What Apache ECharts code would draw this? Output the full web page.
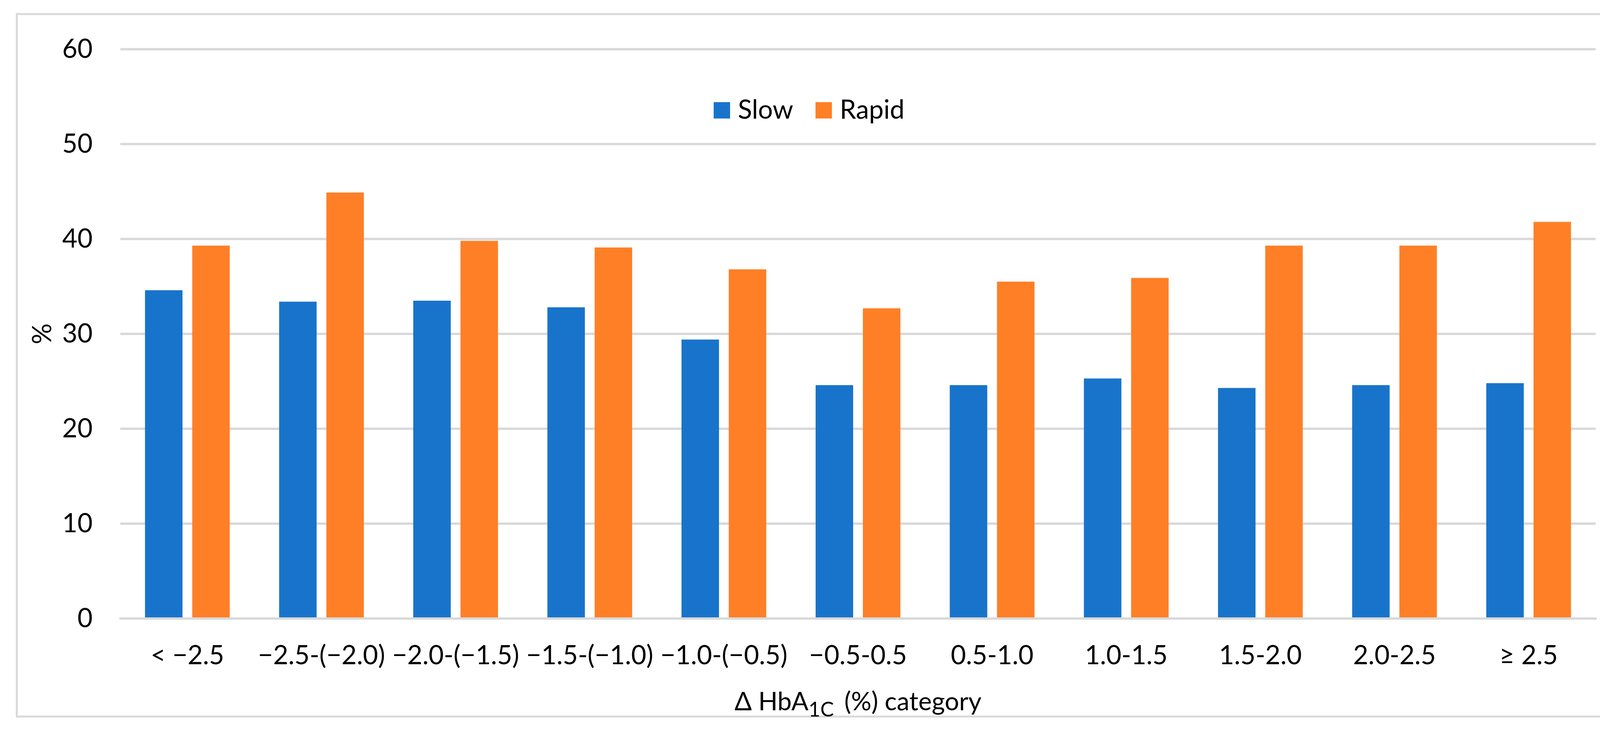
<!DOCTYPE html>
<html>
<head>
<meta charset="utf-8">
<script src="https://cdn.jsdelivr.net/npm/echarts@6/dist/echarts.min.js"></script>
<style>
html,body{margin:0;padding:0;background:#fff;}
#chart{width:4210px;height:1872px;}
</style>
</head>
<body>
<div id="chart"></div>
<script>
const categories = ['< \u22122.5', '\u22122.5-(\u22122.0)', '\u22122.0-(\u22121.5)', '\u22121.5-(\u22121.0)', '\u22121.0-(\u22120.5)', '\u22120.5-0.5', '0.5-1.0', '1.0-1.5', '1.5-2.0', '2.0-2.5', '\u2265 2.5'];
const slowValues = [34.6, 33.4, 33.5, 32.8, 29.4, 24.6, 24.6, 25.3, 24.3, 24.6, 24.8];
const rapidValues = [39.3, 44.9, 39.8, 39.1, 36.8, 32.7, 35.5, 35.9, 39.3, 39.3, 41.8];
const yTicks = { min: 0, max: 60, interval: 10 };

const FONT = 'Lato, "Open Sans", sans-serif';
const chart = echarts.init(document.getElementById('chart'), null, { renderer: 'canvas' });
chart.setOption({
  backgroundColor: '#ffffff',
  animation: false,
  textStyle: { fontFamily: FONT, color: '#000' },
  graphic: [{
    type: 'rect',
    shape: { x: 43, y: 36, width: 4133, height: 1799 },
    style: { fill: 'none', stroke: '#d9d9d9', lineWidth: 5 },
    silent: true
  }],
  legend: {
    left: 1822,
    top: 244,
    itemWidth: 42,
    itemHeight: 42,
    itemGap: 57,
    icon: 'rect',
    textStyle: { fontFamily: FONT, fontSize: 67, color: '#000', lineHeight: 42, padding: [0, 0, 0, 15] },
    data: ['Slow', 'Rapid']
  },
  grid: { left: 308, right: 125, top: 126, bottom: 288, containLabel: false },
  xAxis: {
    type: 'category',
    data: categories,
    z: 3,
    axisLine: { show: true, lineStyle: { color: '#d9d9d9', width: 6 } },
    axisTick: { show: false },
    axisLabel: { interval: 0, margin: 62, fontFamily: FONT, fontSize: 67, color: '#000' },
    name: 'Δ HbA{sub|1C} (%) category',
    nameLocation: 'middle',
    nameGap: 168,
    nameTextStyle: {
      fontFamily: FONT, fontSize: 65, color: '#000', lineHeight: 92, verticalAlign: 'top',
      rich: {
        sub: { fontFamily: FONT, fontSize: 52, color: '#000', lineHeight: 92, verticalAlign: 'bottom', padding: [0, 10, 0, 0] }
      }
    }
  },
  yAxis: {
    type: 'value',
    min: yTicks.min,
    max: yTicks.max,
    interval: yTicks.interval,
    axisLine: { show: false },
    axisTick: { show: false },
    splitLine: { show: true, lineStyle: { color: '#d9d9d9', width: 6 } },
    axisLabel: { margin: 71, fontFamily: FONT, fontSize: 67, color: '#000' },
    name: '%',
    nameLocation: 'middle',
    nameRotate: 90,
    nameGap: 165,
    nameTextStyle: { fontFamily: FONT, fontSize: 67, color: '#000' }
  },
  series: [
    {
      name: 'Slow', type: 'bar', data: slowValues,
      barWidth: 96, barGap: '26%',
      itemStyle: { color: '#1874cb' }
    },
    {
      name: 'Rapid', type: 'bar', data: rapidValues,
      barWidth: 96, barGap: '26%',
      itemStyle: { color: '#ff7f27' }
    }
  ]
});
</script>
</body>
</html>
